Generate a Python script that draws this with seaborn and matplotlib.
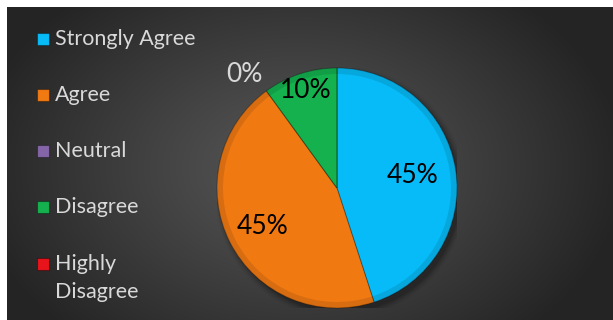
import numpy as np
import matplotlib
matplotlib.use("Agg")
import matplotlib.pyplot as plt
import seaborn as sns
from matplotlib.patches import Circle, Wedge, Rectangle

# Survey response shares (percent)
categories = ["Strongly Agree", "Agree", "Neutral", "Disagree", "Highly Disagree"]
legend_labels = ["Strongly Agree", "Agree", "Neutral", "Disagree", "Highly\nDisagree"]
shares = [45, 45, 0, 10, 0]
slice_colors = ["#06BBF7", "#F07912", "#8465A8", "#14B14E", "#E8141B"]

sns.set_theme(style="white")
plt.rcParams["font.family"] = ["Lato", "DejaVu Sans"]

W, H, DPI = 613, 320, 100
fig = plt.figure(figsize=(W / DPI, H / DPI), dpi=DPI, facecolor="white")

# Dark radial-gradient panel behind the chart
bg = fig.add_axes([7 / W, 0, 1 - 7 / W, 1 - 7 / H], zorder=0)
bw, bh = W - 7, H - 7
yy, xx = np.mgrid[0:bh, 0:bw]
cx, cy = 290, 160
d = np.sqrt(((xx - cx) / 330.0) ** 2 + ((yy - cy) / 230.0) ** 2)
d = np.clip(d, 0, 1)
lev = (0x57 - (0x57 - 0x24) * d ** 1.1) / 255.0
img = np.dstack([lev, lev, lev])
bg.imshow(img, aspect="auto", interpolation="bilinear")
bg.set_axis_off()

# Pie axes: radius 1 maps to 120 px, centred at (337, 188) px
R = 120
pcx, pcy = 337, 188
ax = fig.add_axes([(pcx - R) / W, (H - pcy - R) / H, 2 * R / W, 2 * R / H], zorder=1)
ax.patch.set_alpha(0)

# soft drop shadow
for k, a in enumerate(np.linspace(0.10, 0.03, 5)):
    ax.add_patch(Circle((0.03, -0.035), 1.0 + 0.012 * k, color="black", alpha=a, zorder=0, lw=0))

wedges, _ = ax.pie(
    shares,
    colors=slice_colors,
    startangle=90,
    counterclock=False,
    radius=1.0,
    wedgeprops=dict(linewidth=0.8, edgecolor=(0, 0, 0, 0.25)),
)
for w in wedges:
    w.set_zorder(2)

# bevel: slightly darker outer rim on every slice
for w in wedges:
    if w.theta2 - w.theta1 <= 0:
        continue
    ax.add_patch(Wedge((0, 0), 1.0, w.theta1, w.theta2, width=0.05,
                       facecolor=(0, 0, 0, 0.10), edgecolor="none", zorder=3))

ax.set_xlim(-1, 1)
ax.set_ylim(-1, 1)
ax.set_aspect("equal")
ax.set_axis_off()

# value labels placed along each slice's bisector
label_radius = [0.64, 0.70, 1.22, 0.85, None]
label_color = ["black", "black", "#D9D9D9", "black", None]
label_shift = [0, 0, 3, 0, 0]  # degrees, nudges the outside label
for w, v, r, col, sh in zip(wedges, shares, label_radius, label_color, label_shift):
    if r is None:
        continue
    mid = np.deg2rad((w.theta1 + w.theta2) / 2 + sh)
    ax.text(r * np.cos(mid), r * np.sin(mid), f"{v}%", ha="center", va="center",
            fontsize=19, color=col, zorder=5)

# Legend: square key + label, one row every 56 px, wrapped lines 28 px apart
row_base = [45, 101, 157, 213, 270]
line_gap = 28
for w, lab, base in zip(wedges, legend_labels, row_base):
    fig.patches.append(Rectangle((37 / W, 1 - base / H), 12 / W, 12 / H,
                                 transform=fig.transFigure, facecolor=w.get_facecolor(),
                                 edgecolor=(0, 0, 0, 0.35), linewidth=0.8, zorder=3))
    for j, line in enumerate(lab.split("\n")):
        fig.text(55 / W, 1 - (base + j * line_gap) / H, line, ha="left", va="baseline",
                 fontsize=15.5, color="#D9D9D9", zorder=3)

fig.savefig("out.png", dpi=DPI, facecolor="white")
